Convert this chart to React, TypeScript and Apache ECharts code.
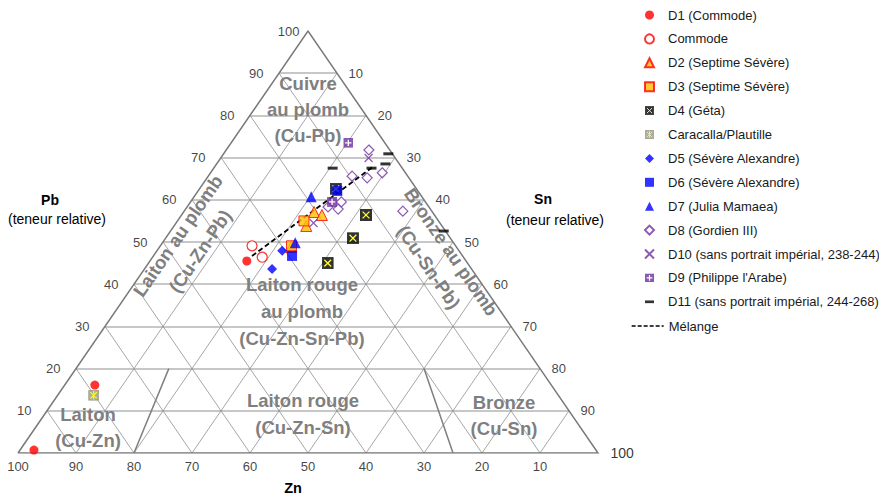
import React, { useEffect, useRef } from "react";
import * as echarts from "echarts";

// Compositions [Zn, Sn, Pb] (teneur relative, %)
const d1Commode = [[37.8, 16.7, 45.5], [78.7, 5.2, 16.1], [96.9, 2.4, 0.7]];
const commode = [[35.1, 15.8, 49.1], [34.7, 18.9, 46.4]];
const d2 = [[23.4, 22.8, 53.8], [20.4, 22.5, 57.1], [19.4, 24.2, 56.4], [28.5, 22.7, 48.8]];
const d3 = [[23.2, 21.8, 55.0], [28.3, 22.6, 49.1]];
const d4 = [[13.9, 23.5, 62.6], [11.8, 31.8, 56.4], [16.8, 32.3, 50.9], [24.1, 30.9, 45.0]];
const caracalla = [[80.1, 6.2, 13.7]];
const d5 = [[30.5, 21.6, 47.9], [34.4, 22.0, 43.6]];
const d6 = [[29.4, 23.9, 46.7], [13.9, 24.0, 62.1]];
const d7 = [[19.1, 20.2, 60.7], [27.3, 22.9, 49.8]];
const d8 = [[3.6, 24.6, 71.8], [9.6, 24.8, 65.6], [7.2, 27.6, 65.2], [4.0, 29.6, 66.4], [5.0, 37.7, 57.3], [15.9, 26.3, 57.8], [17.4, 24.3, 58.3], [14.5, 26.0, 59.5]];
const d10 = [[4.6, 25.5, 69.9], [21.8, 23.7, 54.5]];
const d9 = [[6.3, 20.2, 73.5], [16.1, 24.4, 59.5]];
const d11 = [[0.7, 28.4, 70.9], [2.4, 29.1, 68.5], [5.3, 27.2, 67.5], [12.0, 20.5, 67.5], [0.3, 47.1, 52.6]];
const melange = [[36.3, 17.0, 46.7], [4.9, 27.3, 67.8]];

const seriesNames = [
  "D1 (Commode)", "Commode", "D2 (Septime Sévère)", "D3 (Septime Sévère)", "D4 (Géta)",
  "Caracalla/Plautille", "D5 (Sévère Alexandre)", "D6 (Sévère Alexandre)", "D7 (Julia Mamaea)",
  "D8 (Gordien III)", "D10 (sans portrait impérial, 238-244)", "D9 (Philippe l'Arabe)",
  "D11 (sans portrait impérial, 244-268)", "Mélange",
];

const gridSteps = [10, 20, 30, 40, 50, 60, 70, 80, 90];
const znTicks = [100, 90, 80, 70, 60, 50, 40, 30, 20, 10];
const pbTicks = [10, 20, 30, 40, 50, 60, 70, 80, 90, 100];
const snTicks = [10, 20, 30, 40, 50, 60, 70, 80, 90, 100];
// region boundaries [Zn, Sn, Pb]
const boundaries = [
  [[80, 20, 0], [64, 16, 20]],
  [[25, 75, 0], [20, 60, 20]],
];

const FONT = "'Liberation Sans', Arial, Helvetica, sans-serif";
const toXY = (c: number[]) => [c[1] + c[2] / 2, c[2]];

const svgUri = (s: string) => "image://data:image/svg+xml;charset=utf-8," + encodeURIComponent(s);
const symD4 = svgUri(
  "<svg xmlns='http://www.w3.org/2000/svg' width='12' height='12' viewBox='0 0 12 12'><rect x='0.5' y='0.5' width='11' height='11' fill='#000' stroke='#000'/><path d='M2.6 2.6L9.4 9.4M9.4 2.6L2.6 9.4' stroke='#ffff00' stroke-width='1.3' fill='none'/></svg>"
);
const symCar = svgUri(
  "<svg xmlns='http://www.w3.org/2000/svg' width='12' height='12' viewBox='0 0 12 12'><rect x='0.5' y='0.5' width='11' height='11' fill='#9c9c7c' stroke='#8a8a70'/><path d='M2.6 2.6L9.4 9.4M9.4 2.6L2.6 9.4M6 1.5V10.5' stroke='#ffff00' stroke-width='1.2' fill='none'/></svg>"
);
const symD9 = svgUri(
  "<svg xmlns='http://www.w3.org/2000/svg' width='12' height='12' viewBox='0 0 12 12'><rect x='0' y='0' width='12' height='12' fill='#7030a0'/><path d='M6 2.2V9.8M2.2 6H9.8' stroke='#ffffff' stroke-width='1.6' fill='none'/></svg>"
);

export default function App() {
  const ref = useRef<HTMLDivElement>(null);
  useEffect(() => {
    document.body.style.margin = "0";
    const chart = echarts.init(ref.current!, null, { renderer: "svg" });

    const seg = (a: number[], b: number[]) => ({ coords: [toXY(a), toXY(b)] });
    const pbLines = gridSteps.map((k) => seg([100 - k, 0, k], [0, 100 - k, k]));
    const diagLines = [
      ...gridSteps.map((k) => seg([100 - k, k, 0], [0, k, 100 - k])),
      ...gridSteps.map((k) => seg([k, 100 - k, 0], [k, 0, 100 - k])),
    ];

    const scatter = (name: string, data: number[][], symbol: any, size: any, itemStyle: any) => ({
      type: "scatter",
      name,
      data: data.map(toXY),
      symbol,
      symbolSize: size,
      itemStyle,
      z: 10,
      clip: false,
      silent: true,
    });

    const tickLabelStyle = { color: "#111", fontSize: 13, fontFamily: FONT };
    const tickSeries = (data: any[], position: string, distance: number) => ({
      type: "scatter",
      data,
      symbolSize: 1,
      itemStyle: { color: "rgba(0,0,0,0)" },
      silent: true,
      clip: false,
      z: 6,
      label: {
        show: true,
        position,
        distance,
        ...tickLabelStyle,
        formatter: (p: any) => String(p.value[2]),
      },
    });

    const regionStyle = {
      fill: "#7f7f7f",
      fontSize: 18.5,
      fontWeight: "bold",
      fontFamily: FONT,
      align: "center",
      verticalAlign: "middle",
      lineHeight: 27,
    };
    const region = (text: string, x: number, y: number, rot = 0, lh = 27) => ({
      type: "text",
      x,
      y,
      rotation: rot,
      z: 5,
      silent: true,
      style: { ...regionStyle, text, lineHeight: lh },
    });
    const titleText = (text: string, x: number, y: number, bold: boolean, size = 14) => ({
      type: "text",
      x,
      y,
      z: 5,
      silent: true,
      style: {
        text,
        fill: "#000",
        fontSize: size,
        fontWeight: bold ? "bold" : "normal",
        fontFamily: FONT,
        align: "center",
        verticalAlign: "middle",
      },
    });
    const ang = (55.5 * Math.PI) / 180;
    const legendText = { fontSize: 13, color: "#1a1a1a", fontFamily: FONT, lineHeight: 14 };

    const option: any = {
      animation: false,
      backgroundColor: "#fff",
      grid: { left: 18, top: 31, width: 580, height: 422 },
      xAxis: { type: "value", min: 0, max: 100, show: false },
      yAxis: { type: "value", min: 0, max: 100, show: false },
      legend: [
        {
          data: seriesNames.slice(0, 13),
          orient: "vertical",
          align: "left",
          left: 639,
          top: 3,
          itemWidth: 9,
          itemHeight: 9,
          itemGap: 9.9,
          selectedMode: false,
          textStyle: { ...legendText, padding: [0, 0, 0, 9] },
        },
        {
          data: ["Mélange"],
          orient: "vertical",
          align: "left",
          left: 626,
          top: 314,
          itemWidth: 32,
          itemHeight: 10,
          selectedMode: false,
          itemStyle: { opacity: 0 },
          lineStyle: { type: [4, 2], width: 1.3, color: "#000" },
          textStyle: legendText,
        },
      ],
      graphic: {
        elements: [
          region("Cuivre\nau plomb\n(Cu-Pb)", 308, 109, 0, 26),
          region("Laiton rouge\nau plomb\n(Cu-Zn-Sn-Pb)", 302, 311),
          region("Laiton rouge\n(Cu-Zn-Sn)", 303, 413.5),
          region("Laiton\n(Cu-Zn)", 88, 427, 0, 26),
          region("Bronze\n(Cu-Sn)", 504, 415, 0, 26),
          region("Laiton au plomb\n(Cu-Zn-Pb)", 189, 243.5, ang),
          region("Bronze au plomb\n(Cu-Sn-Pb)", 440, 259.5, -ang),
          titleText("Pb", 50, 200, true),
          titleText("(teneur relative)", 57, 219, false),
          titleText("Sn", 543, 199, true),
          titleText("(teneur relative)", 555, 220, false),
          titleText("Zn", 293, 488, true, 14.5),
        ],
      },
      series: [
        {
          type: "lines",
          coordinateSystem: "cartesian2d",
          silent: true,
          z: 1,
          lineStyle: { color: "#b4b4b4", width: 1.5, opacity: 1 },
          data: pbLines,
        },
        {
          type: "lines",
          coordinateSystem: "cartesian2d",
          silent: true,
          z: 1,
          lineStyle: { color: "#8f8f8f", width: 0.8, opacity: 1 },
          data: diagLines,
        },
        {
          type: "lines",
          coordinateSystem: "cartesian2d",
          polyline: true,
          silent: true,
          z: 2,
          lineStyle: { color: "#7a7a7a", width: 1.5, opacity: 1 },
          data: [{ coords: [[100, 0, 0], [0, 0, 100], [0, 100, 0], [100, 0, 0]].map(toXY) }],
        },
        {
          type: "lines",
          coordinateSystem: "cartesian2d",
          silent: true,
          z: 2,
          lineStyle: { color: "#7f7f7f", width: 1.5, opacity: 1 },
          data: boundaries.map((b) => seg(b[0], b[1])),
        },
        tickSeries(znTicks.map((k) => ({ value: [100 - k, 0, k] })), "bottom", 6),
        tickSeries(
          pbTicks.map((k) => (k === 100 ? { value: [50, 100, k], label: { distance: 8 } } : { value: [k / 2, k, k] })),
          "left",
          15
        ),
        tickSeries(
          snTicks.map((k) =>
            k === 100
              ? { value: [100, 0, k], label: { distance: 12, fontSize: 14, color: "#000" } }
              : { value: [k + (100 - k) / 2, 100 - k, k] }
          ),
          "right",
          11
        ),
        {
          type: "line",
          name: "Mélange",
          data: melange.map(toXY),
          symbol: "none",
          z: 9,
          silent: true,
          itemStyle: { color: "#000" },
          lineStyle: { color: "#000", width: 1.8, type: [5, 3] },
        },
        scatter(seriesNames[0], d1Commode, "circle", 9, { color: "#ff0000" }),
        scatter(seriesNames[1], commode, "circle", 10, { color: "#ffffff", borderColor: "#ff0000", borderWidth: 1.2 }),
        scatter(seriesNames[2], d2, "triangle", 11, { color: "#ffc000", borderColor: "#ff0000", borderWidth: 1 }),
        scatter(seriesNames[3], d3, "rect", 10, { color: "#ffc000", borderColor: "#ff0000", borderWidth: 1 }),
        scatter(seriesNames[4], d4, symD4, 12, {}),
        scatter(seriesNames[5], caracalla, symCar, 11, {}),
        scatter(seriesNames[6], d5, "diamond", 10, { color: "#0000ff" }),
        scatter(seriesNames[7], d6, "rect", 10, { color: "#0000ff" }),
        scatter(seriesNames[8], d7, "triangle", 11, { color: "#0000ff" }),
        scatter(seriesNames[9], d8, "diamond", 10, { color: "#ffffff", borderColor: "#7030a0", borderWidth: 1.2 }),
        scatter(seriesNames[10], d10, "path://M0 0L10 10M10 0L0 10", 8, {
          color: "rgba(0,0,0,0)",
          borderColor: "#7030a0",
          borderWidth: 1.2,
        }),
        scatter(seriesNames[11], d9, symD9, 10, {}),
        scatter(seriesNames[12], d11, "path://M0 0H10V3H0Z", [10, 3], { color: "#000000" }),
      ],
    };

    chart.setOption(option);
    return () => chart.dispose();
  }, []);
  return <div ref={ref} style={{ width: 879, height: 496 }} />;
}
